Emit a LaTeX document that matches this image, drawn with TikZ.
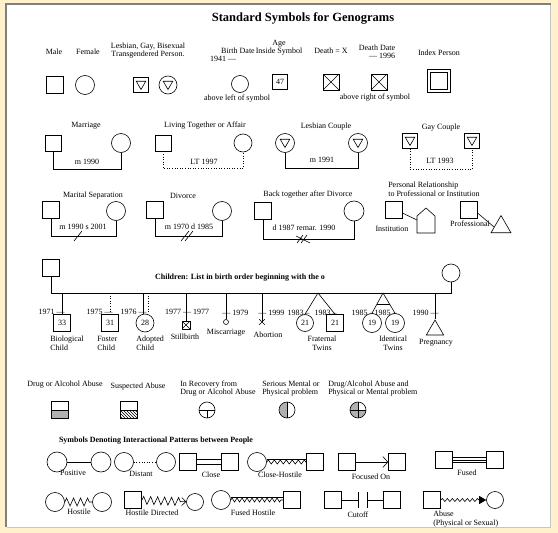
\documentclass[tikz,border=0pt]{standalone}
\usepackage{fontspec}
\setmainfont{Liberation Serif}
\usetikzlibrary{shapes.geometric,shapes.misc,arrows.meta,decorations.pathmorphing,patterns,calc}
\definecolor{GenoBeige}{HTML}{FFF1CC}
\definecolor{GenoFrame}{HTML}{7F7F7F}
\definecolor{GenoShade}{HTML}{B0B0B0}

\begin{document}
\begin{tikzpicture}[x=1pt,y=-1pt,line width=0.6pt,
    lbl/.style={font=\fontsize{8}{8.5}\selectfont,inner sep=0pt,align=center},
    hdr/.style={font=\fontsize{8}{8.5}\selectfont\bfseries,inner sep=0pt},
    sq/.style={draw,minimum size=17pt,inner sep=0pt,font=\fontsize{8}{8}\selectfont},
    ci/.style={draw,circle,minimum size=19pt,inner sep=0pt,font=\fontsize{8}{8}\selectfont},
    dn/.style={draw,regular polygon,regular polygon sides=3,shape border rotate=180,minimum size=11pt,inner sep=0pt,yshift=1pt},
    up/.style={draw,regular polygon,regular polygon sides=3,inner sep=0pt},
    xed/.style={path picture={\draw (path picture bounding box.south west) -- (path picture bounding box.north east)
      (path picture bounding box.north west) -- (path picture bounding box.south east);}},
    drug/.style={path picture={\fill[GenoShade] (path picture bounding box.west) rectangle (path picture bounding box.south east);
      \draw (path picture bounding box.west) -- (path picture bounding box.east);}},
    susp/.style={path picture={\fill[pattern=north west lines] (path picture bounding box.west) rectangle (path picture bounding box.south east);
      \draw (path picture bounding box.west) -- (path picture bounding box.east);}},
    recov/.style={path picture={\draw (path picture bounding box.west) -- (path picture bounding box.east)
      (path picture bounding box.center) -- (path picture bounding box.south);}},
    mental/.style={path picture={\fill[GenoShade] (path picture bounding box.south west) rectangle (path picture bounding box.north);
      \draw (path picture bounding box.north) -- (path picture bounding box.south);}},
    both/.style={path picture={\fill[GenoShade] (path picture bounding box.south west) rectangle (path picture bounding box.north);
      \fill[GenoShade] (path picture bounding box.center) rectangle (path picture bounding box.south east);
      \draw (path picture bounding box.north) -- (path picture bounding box.south)
      (path picture bounding box.west) -- (path picture bounding box.east);}},
    zz/.style={decorate,decoration={zigzag,amplitude=4pt,segment length=7pt}}]
  \useasboundingbox (0,0) rectangle (558,533);
  \fill[GenoBeige] (0,0) rectangle (558,533);
  \fill[white] (6,4) rectangle (550,527);
  \draw[GenoFrame,line width=2pt] (6,527) -- (6,4) -- (551,4);
  \draw[GenoFrame!45] (550,5) -- (550,527) -- (7,527);

  \node[lbl,font=\fontsize{12.5}{13}\selectfont\bfseries] (title) at (303,18) {Standard Symbols for Genograms};

  \node[lbl] (t-male) at (54,52) {Male};
  \node[lbl] (t-female) at (88,52) {Female};
  \node[lbl] (t-lgbt) at (148,50.5) {Lesbian, Gay, Bisexual\\Transgendered Person.};
  \node[lbl] (t-birth) at (238,51) {Birth Date};
  \node[lbl] (t-birthyr) at (223,59) {1941 ---};
  \node[lbl] (t-age) at (279,47.5) {Age\\Inside Symbol};
  \node[lbl] (t-death) at (331,51) {Death = X};
  \node[lbl] (t-ddate) at (377,48) {Death Date};
  \node[lbl] (t-ddateyr) at (382,56) {--- 1996};
  \node[lbl] (t-index) at (439,53) {Index Person};
  \node[sq] (male) at (55,85) {};
  \node[ci] (female) at (85,85) {};
  \node[sq,minimum size=15pt] (lgbt-m) at (141,85) {};
  \node[dn] (lgbt-mt) at (lgbt-m) {};
  \node[ci,minimum size=18pt] (lgbt-f) at (168,85) {};
  \node[dn] (lgbt-ft) at (lgbt-f) {};
  \node[ci,minimum size=17pt] (birth) at (240,84) {};
  \node[sq,minimum size=15pt] (age) at (280,82) {47};
  \node[sq,minimum size=16pt,xed] (death) at (331,82) {};
  \node[sq,minimum size=16pt,xed] (ddate) at (379,82) {};
  \node[sq,minimum size=20pt,double,double distance=2pt] (index) at (439,81) {};
  \node[lbl] (t-aleft) at (237,99) {above left of symbol};
  \node[lbl] (t-aright) at (375,98) {above right of symbol};

  \node[lbl] (t-marr) at (86,126) {Marriage};
  \node[sq,minimum size=16pt] (marr-m) at (53,143) {};
  \node[ci] (marr-f) at (121,143) {};
  \draw (marr-m.south) -- ++(0,18) -| (marr-f.south);
  \node[lbl] (t-marryr) at (87,162) {m 1990};
  \node[lbl] (t-lt) at (205,126) {Living Together or Affair};
  \node[sq,minimum size=16pt] (lt-m) at (163,143) {};
  \node[ci,minimum size=18pt] (lt-f) at (243,143) {};
  \draw[dotted] (lt-m.south) -- ++(0,17) -| (lt-f.south);
  \node[lbl] (t-ltyr) at (204,162) {LT 1997};
  \node[lbl] (t-lesb) at (326,127) {Lesbian Couple};
  \node[ci] (lesb-a) at (285,143) {};
  \node[dn] (lesb-at) at (lesb-a) {};
  \node[ci] (lesb-b) at (358,143) {};
  \node[dn] (lesb-bt) at (lesb-b) {};
  \draw (lesb-a.south) -- ++(0,15.5) -| (lesb-b.south);
  \node[lbl] (t-lesbyr) at (322,160) {m 1991};
  \node[lbl] (t-gay) at (441,128) {Gay Couple};
  \node[sq,minimum size=15pt] (gay-a) at (410,141) {};
  \node[dn] (gay-at) at (gay-a) {};
  \node[sq,minimum size=15pt] (gay-b) at (472,141) {};
  \node[dn] (gay-bt) at (gay-b) {};
  \draw[dotted] (gay-a.south) -- ++(0,20.5) -| (gay-b.south);
  \node[lbl] (t-gayyr) at (440,161) {LT 1993};

  \node[lbl] (t-sep) at (93,196) {Marital Separation};
  \node[sq] (sep-m) at (51,210) {};
  \node[ci] (sep-f) at (116,211) {};
  \draw (sep-m.south) -- ++(0,17.5) -| (sep-f.south);
  \node[lbl] (t-sepyr) at (83,227) {m 1990 s 2001};
  \coordinate (sep-x) at (78,236);
  \draw ($(sep-x)+(-4,5)$) -- ($(sep-x)+(4,-5)$);
  \node[lbl] (t-div) at (183,196) {Divorce};
  \node[sq] (div-m) at (155,210) {};
  \node[ci] (div-f) at (222,211) {};
  \draw (div-m.south) -- ++(0,17.5) -| (div-f.south);
  \node[lbl] (t-divyr) at (189,227) {m 1970 d 1985};
  \coordinate (div-x) at (187,236);
  \draw ($(div-x)+(-6,5)$) -- ($(div-x)+(2,-5)$) ($(div-x)+(-2,5)$) -- ($(div-x)+(6,-5)$);
  \node[lbl] (t-back) at (308,195) {Back together after Divorce};
  \node[sq] (back-m) at (263,211) {};
  \node[ci,minimum size=20pt] (back-f) at (354,211) {};
  \draw (back-m.south) -- ++(0,19.5) -| (back-f.south);
  \node[lbl] (t-backyr) at (304,228) {d 1987 remar. 1990};
  \coordinate (back-x) at (303,239);
  \draw ($(back-x)+(-6,4)$) -- ($(back-x)+(0,-4)$) ($(back-x)+(-2,4)$) -- ($(back-x)+(4,-4)$)
    ($(back-x)+(-7,-3)$) -- ($(back-x)+(7,4)$);
  \node[lbl,align=left,anchor=west] (t-pers) at (388,189.5) {Personal Relationship\\to Professional or Institution};
  \node[sq] (inst) at (394,210) {};
  \draw (417,233) -- (417,216) -- (426,208) -- (435,216) -- (435,233) -- cycle;
  \coordinate (house-w) at (417,220);
  \draw (inst.-20) -- (house-w);
  \node[lbl] (t-inst) at (392,229) {Institution};
  \node[sq] (prof) at (469,210) {};
  \node[up,minimum size=23pt] (prof-t) at (501,227) {};
  \draw (prof.-20) -- (prof-t.west);
  \node[lbl] (t-prof) at (470,224) {Professional};

  \node[sq] (father) at (51,268) {};
  \node[ci,minimum size=18pt] (mother) at (451,273) {};
  \coordinate (sibline) at (0,293);
  \draw (father.south) -- (father.south |- sibline) -| (mother.south);
  \node[hdr] (t-children) at (240,278) {Children: List in birth order beginning with the o};
  \node[sq] (bio) at (62,323) {33};
  \node[sq] (foster) at (110,323) {31};
  \node[ci,minimum size=18pt] (adop) at (145,323) {28};
  \node[sq,minimum size=8pt,xed] (still) at (186,325) {};
  \node[draw,circle,minimum size=5pt,inner sep=0pt] (misc) at (226,322) {};
  \node[draw,cross out,minimum size=5pt,inner sep=0pt] (abort) at (262,322) {};
  \node[ci,minimum size=17pt] (frat-a) at (305,323) {21};
  \node[sq] (frat-b) at (335,323) {21};
  \node[ci] (id-a) at (372,323) {19};
  \node[ci] (id-b) at (395,323) {19};
  \node[up,minimum size=20pt] (preg) at (435,330) {};
  \draw (bio.north |- sibline) -- (bio.north);
  \draw[dotted] (foster.north |- sibline) -- (foster.north);
  \coordinate (adop-s) at ([xshift=-1.5pt]adop.north);
  \coordinate (adop-d) at ([xshift=3pt]adop.north);
  \draw (adop-s |- sibline) -- (adop-s);
  \draw[dotted] (adop-d |- sibline) -- (adop-d);
  \draw (still.north |- sibline) -- (still.north);
  \draw (misc.north |- sibline) -- (misc.north);
  \draw (abort.center |- sibline) -- (abort.center);
  \coordinate (frat) at (318,293);
  \draw (frat-a.north) -- (frat) -- (frat-b.north);
  \coordinate (ident) at (383,293);
  \draw (id-a.north) -- (ident) -- (id-b.north);
  \draw ($(ident)!0.58!(id-a.north)$) -- ($(ident)!0.58!(id-b.north)$);
  \draw (preg.north |- sibline) -- (preg.north);
  \node[lbl,anchor=east] (y-bio) at (65,312) {1971 ---};
  \node[lbl,anchor=east] (y-foster) at (113,312) {1975 ---};
  \node[lbl,anchor=east] (y-adop) at (147,312) {1976 ---};
  \node[lbl] (y-still) at (187,312) {1977 --- 1977};
  \node[lbl,anchor=west] (y-misc) at (222,313) {--- 1979};
  \node[lbl,anchor=west] (y-abort) at (258,313) {--- 1999};
  \node[lbl,anchor=east] (y-frat-a) at (310,313) {1983 --};
  \node[lbl,anchor=east] (y-frat-b) at (337,313) {1983 --};
  \node[lbl,anchor=east] (y-id-a) at (374,313) {1985 --};
  \node[lbl,anchor=east] (y-id-b) at (397,313) {1985 --};
  \node[lbl,anchor=east] (y-preg) at (439,313) {1990 ---};
  \node[lbl,align=left,anchor=west] (t-bio) at (50,343.5) {Biological\\Child};
  \node[lbl,align=left,anchor=west] (t-foster) at (97,343.5) {Foster\\Child};
  \node[lbl,align=left,anchor=west] (t-adop) at (136,343.5) {Adopted\\Child};
  \node[lbl] (t-still) at (185,337) {Stillbirth};
  \node[lbl] (t-misc) at (226,333) {Miscarriage};
  \node[lbl] (t-abort) at (268,335) {Abortion};
  \node[lbl] (t-frat) at (322,343.5) {Fraternal\\Twins};
  \node[lbl] (t-ident) at (393,343.5) {Identical\\Twins};
  \node[lbl] (t-preg) at (436,343) {Pregnancy};

  \node[lbl] (t-drug) at (65,385) {Drug or Alcohol Abuse};
  \node[sq,drug] (drug) at (60,410) {};
  \node[lbl] (t-susp) at (138,387) {Suspected Abuse};
  \node[sq,susp] (susp) at (129,410) {};
  \node[lbl,align=left,anchor=west] (t-recov) at (180,388.5) {In Recovery from\\Drug or Alcohol Abuse};
  \node[ci,minimum size=16pt,recov] (recov) at (207,410) {};
  \node[lbl,align=left,anchor=west] (t-mental) at (262,388.5) {Serious Mental or\\Physical problem};
  \node[ci,minimum size=16pt,mental] (mental) at (287,410) {};
  \node[lbl,align=left,anchor=west] (t-both) at (328,388.5) {Drug/Alcohol Abuse and\\Physical or Mental problem};
  \node[ci,minimum size=16pt,both] (both) at (358,410) {};

  \node[hdr] (t-inter) at (156,441) {Symbols Denoting Interactional Patterns between People};
  \node[ci,minimum size=20pt] (pos-a) at (57,462) {};
  \node[ci,minimum size=20pt] (pos-b) at (101,462) {};
  \draw (pos-a) -- (pos-b);
  \node[lbl] (t-pos) at (73,473) {Positive};
  \node[ci] (dis-a) at (124,462) {};
  \node[ci] (dis-b) at (166,462) {};
  \draw[dotted] (dis-a) -- (dis-b);
  \node[lbl] (t-dis) at (141,474) {Distant};
  \node[sq] (clo-a) at (188,462) {};
  \node[sq] (clo-b) at (230,462) {};
  \draw[double distance=4pt] (clo-a) -- (clo-b);
  \node[lbl] (t-clo) at (211,475) {Close};
  \node[ci] (ch-a) at (257,462) {};
  \node[sq] (ch-b) at (315,462) {};
  \draw[double distance=5pt] (ch-a) -- (ch-b);
  \draw[decorate,decoration={zigzag,amplitude=2pt,segment length=6pt}] (ch-a) -- (ch-b);
  \node[lbl] (t-ch) at (280,475) {Close-Hostile};
  \node[sq] (foc-a) at (347,462) {};
  \node[sq] (foc-b) at (397,462) {};
  \draw[-{Straight Barb[length=5pt,width=11pt]}] (foc-a) -- (foc-b);
  \node[lbl] (t-foc) at (371,477) {Focused On};
  \node[sq] (fus-a) at (444,460) {};
  \node[sq] (fus-b) at (495,460) {};
  \draw[double distance=4pt] (fus-a) -- (fus-b);
  \draw (fus-a) -- (fus-b);
  \node[lbl] (t-fus) at (467,473) {Fused};

  \node[ci] (hos-a) at (55,502) {};
  \node[ci] (hos-b) at (102,502) {};
  \draw[zz] (hos-a) -- (hos-b);
  \node[lbl] (t-hos) at (79,512) {Hostile};
  \node[sq] (hd-a) at (133,500) {};
  \node[ci,minimum size=17pt] (hd-b) at (195,502) {};
  \draw[decorate,decoration={zigzag,amplitude=4pt,segment length=7pt,post length=5pt},
    -{Straight Barb[length=4pt,width=8pt]}] (hd-a) -- (hd-b);
  \node[lbl] (t-hd) at (152,513) {Hostile Directed};
  \node[ci] (fh-a) at (221,500) {};
  \node[sq] (fh-b) at (292,500) {};
  \draw[double distance=5pt] (fh-a) -- (fh-b);
  \draw[decorate,decoration={zigzag,amplitude=2pt,segment length=5pt}] (fh-a) -- (fh-b);
  \node[lbl] (t-fh) at (253,513) {Fused Hostile};
  \node[sq] (cut-a) at (333,500) {};
  \node[sq] (cut-b) at (392,500) {};
  \coordinate (cut-l) at (358,500);
  \coordinate (cut-r) at (367,500);
  \draw (cut-a) -- (cut-l) ($(cut-l)+(0,-8)$) -- ($(cut-l)+(0,8)$);
  \draw (cut-r) -- (cut-b) ($(cut-r)+(0,-8)$) -- ($(cut-r)+(0,8)$);
  \node[lbl] (t-cut) at (358,515) {Cutoff};
  \node[sq] (ab-a) at (432,500) {};
  \node[ci,minimum size=17pt] (ab-b) at (495,500) {};
  \draw[decorate,decoration={snake,amplitude=1.5pt,segment length=5pt,post length=7pt},
    -{Triangle[length=7pt,width=8pt]}] (ab-a) -- (ab-b);
  \node[lbl,align=left,anchor=west] (t-ab) at (433,519) {Abuse\\(Physical or Sexual)};
\end{tikzpicture}
\end{document}
